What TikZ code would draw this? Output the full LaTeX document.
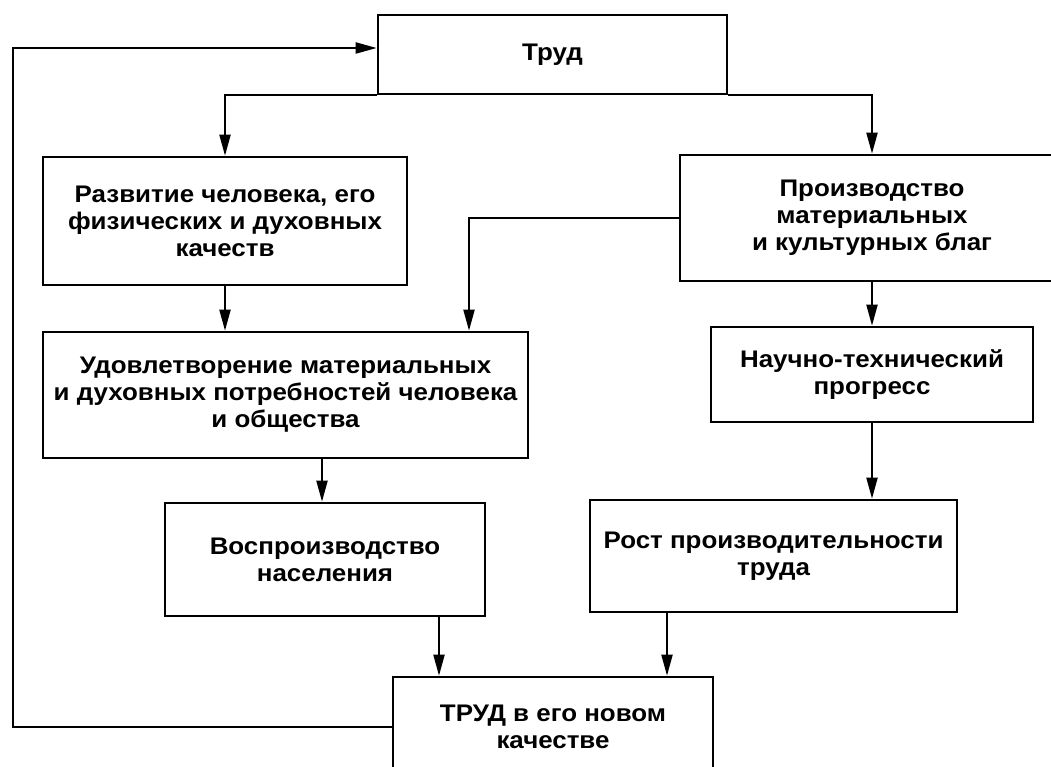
\documentclass[tikz,border=0pt]{standalone}
\usepackage{fontspec}
\setmainfont[FakeStretch=1.08]{Liberation Sans}
\usetikzlibrary{arrows.meta}
\begin{document}
\begin{tikzpicture}[x=1pt,y=-1pt,
  blk/.style={draw, line width=2.6pt, align=center, inner sep=0pt,
    font=\bfseries\fontsize{24}{27}\selectfont},
  arr/.style={line width=2pt, line join=miter, -{Triangle[length=21pt,width=11pt]}},
  ln/.style={line width=2pt}]
\useasboundingbox (0,0) rectangle (1051,767);
\clip (0,0) rectangle (1051,767);

% boxes
\node[blk, minimum width=349pt, minimum height=79pt] (trud) at (552.5,54.5) {Труд};
\node[blk, minimum width=364pt, minimum height=128pt] (razv) at (225,221)
  {Развитие человека, его\\физических и духовных\\качеств};
\node[blk, minimum width=384pt, minimum height=126pt] (proizv) at (872,218)
  {Производство\\материальных\\и культурных благ};
\node[blk, minimum width=485pt, minimum height=126pt] (udov) at (285.5,395)
  {Удовлетворение материальных\\и духовных потребностей человека\\и общества};
\node[blk, minimum width=322pt, minimum height=95pt] (nauch) at (872,374.5)
  {Научно-технический\\прогресс};
\node[blk, minimum width=320pt, minimum height=113pt] (vospr) at (325,559.5)
  {Воспроизводство\\населения};
\node[blk, minimum width=367pt, minimum height=112pt] (rost) at (773.5,556)
  {Рост производительности\\труда};
\node[blk, minimum width=320pt, minimum height=100pt] (novyj) at (553,727)
  {ТРУД в его новом\\качестве};

% guide coordinates for connector columns and rows
\coordinate (xa) at (469,0);
\coordinate (xb) at (322,0);
\coordinate (xc) at (439,0);
\coordinate (xd) at (667,0);
\coordinate (fb) at (13,727);
\coordinate (ytop) at (0,48);

% connectors
\draw[arr] (trud.south west) -| (razv.north);
\draw[arr] (trud.south east) -| (proizv.north);
\draw[arr] (razv.south) -- (udov.north -| razv.south);
\draw[arr] (proizv.west) -| (xa |- udov.north);
\draw[arr] (proizv.south) -- (nauch.north);
\draw[arr] (xb |- udov.south) -- (xb |- vospr.north);
\draw[arr] (nauch.south) -- (nauch.south |- rost.north);
\draw[arr] (xc |- vospr.south) -- (xc |- novyj.north);
\draw[arr] (xd |- rost.south) -- (xd |- novyj.north);
\draw[arr] (novyj.west |- fb) -- (fb) |- (trud.west |- ytop);
\end{tikzpicture}
\end{document}
